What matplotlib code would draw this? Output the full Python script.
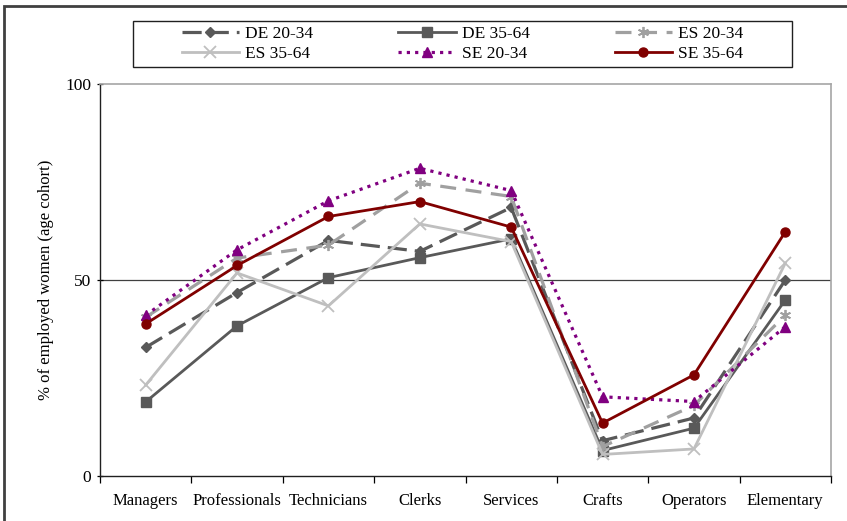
import matplotlib.pyplot as plt
import matplotlib.patches as patches

plt.rcParams['font.family'] = ['Liberation Serif', 'DejaVu Serif']

categories = ['Managers', 'Professionals', 'Technicians', 'Clerks',
              'Services', 'Crafts', 'Operators', 'Elementary']

de_20_34 = [32.8, 46.8, 60.1, 57.3, 68.5, 9.0, 14.8, 50.0]
de_35_64 = [18.9, 38.3, 50.6, 55.7, 60.5, 6.5, 12.2, 44.9]
es_20_34 = [40.5, 55.6, 58.9, 74.7, 71.3, 7.5, 18.0, 41.0]
es_35_64 = [23.2, 51.8, 43.4, 64.3, 59.8, 5.5, 6.9, 54.3]
se_20_34 = [41.0, 57.7, 70.2, 78.5, 72.8, 20.2, 19.0, 38.1]
se_35_64 = [38.8, 53.7, 66.2, 70.0, 63.5, 13.5, 25.8, 62.3]

fig = plt.figure(figsize=(8.47, 5.21), dpi=100)
ax = fig.add_axes([100 / 847, 1 - 476 / 521, 731 / 847, 392 / 521])

x = list(range(len(categories)))

ax.axhline(50, color='#404040', lw=0.9, zorder=1)

h1, = ax.plot(x, de_20_34, color='#595959', lw=2.3, dashes=(6, 2.5),
              marker='D', ms=5.5, label='DE 20-34')
h2, = ax.plot(x, de_35_64, color='#595959', lw=2.0,
              marker='s', ms=6.5, label='DE 35-64')
h3, = ax.plot(x, es_20_34, color='#a0a0a0', lw=2.3, dashes=(5, 3),
              marker=(6, 2, 0), ms=8, mew=1.3, label='ES 20-34')
h4, = ax.plot(x, es_35_64, color='#bfbfbf', lw=2.0,
              marker='x', ms=8, mew=1.3, label='ES 35-64')
h5, = ax.plot(x, se_20_34, color='#800080', lw=2.3, dashes=(1, 1.6),
              marker='^', ms=7.5, label='SE 20-34')
h6, = ax.plot(x, se_35_64, color='#800000', lw=2.0,
              marker='o', ms=6.5, label='SE 35-64')

ax.set_xlim(-0.5, len(categories) - 0.5)
ax.set_ylim(0, 100)
ax.set_yticks([0, 50, 100])
ax.set_xticks(x)
ax.set_xticklabels(categories, fontsize=12)
ax.set_xticks([i + 0.5 for i in range(-1, len(categories))], minor=True)
ax.tick_params(axis='x', which='major', length=0, pad=12)
ax.tick_params(axis='x', which='minor', length=5, direction='out', width=0.9)
ax.tick_params(axis='y', length=5, direction='inout', width=0.9, labelsize=12.5, pad=4)
ax.set_ylabel('% of employed women (age cohort)', fontsize=12, labelpad=8)

for side in ['left', 'bottom']:
    ax.spines[side].set_color('#202020')
    ax.spines[side].set_linewidth(1.0)
for side in ['top', 'right']:
    ax.spines[side].set_color('#a6a6a6')
    ax.spines[side].set_linewidth(1.2)

# legend: two rows of three, filled column by column, box drawn separately
handles = [h1, h4, h2, h5, h3, h6]
fig.legend(handles=handles, labels=[h.get_label() for h in handles],
           ncol=3, loc='center', bbox_to_anchor=(462.5 / 847, 1 - 44 / 521),
           frameon=False, fontsize=12.5, handlelength=3.3, handletextpad=0.35,
           borderpad=0, labelspacing=0.25, columnspacing=4.9)
fig.add_artist(patches.Rectangle((133 / 847, 1 - 67 / 521), 659 / 847, 46 / 521,
                                 transform=fig.transFigure, fill=False,
                                 lw=1.0, edgecolor='#202020'))

# outer frame of the chart
fig.add_artist(patches.Rectangle((4 / 847, -0.05), 1.2, 1.05 - 6 / 521,
                                 transform=fig.transFigure, fill=False,
                                 lw=2.0, edgecolor='#404040', clip_on=False))

fig.savefig('out.png', dpi=100)
